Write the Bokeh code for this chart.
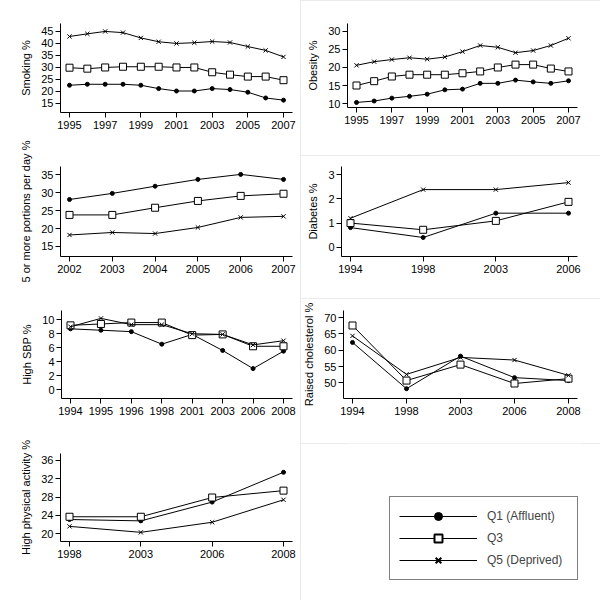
from bokeh.plotting import figure
from bokeh.models import FixedTicker, Range1d, Legend, LegendItem
from bokeh.layouts import row, column
from bokeh.embed import file_html
from bokeh.resources import INLINE

# ---------------- data ----------------
series_labels = ["Q1 (Affluent)", "Q3", "Q5 (Deprived)"]

smoking_years = [1995, 1996, 1997, 1998, 1999, 2000, 2001, 2002, 2003, 2004, 2005, 2006, 2007]
smoking_q1 = [22.6, 23.0, 23.0, 23.0, 22.6, 21.2, 20.2, 20.2, 21.2, 20.8, 19.7, 17.3, 16.4]
smoking_q3 = [29.9, 29.5, 30.0, 30.3, 30.3, 30.3, 30.0, 30.0, 28.0, 27.0, 26.2, 26.2, 24.7]
smoking_q5 = [42.9, 44.0, 45.0, 44.5, 42.3, 40.7, 40.0, 40.3, 40.8, 40.4, 38.7, 37.1, 34.4]
smoking_yticks = [15, 20, 25, 30, 35, 40, 45]

obesity_years = [1995, 1996, 1997, 1998, 1999, 2000, 2001, 2002, 2003, 2004, 2005, 2006, 2007]
obesity_q1 = [10.3, 10.7, 11.5, 12.0, 12.6, 13.8, 14.0, 15.6, 15.6, 16.5, 16.0, 15.6, 16.3]
obesity_q3 = [15.0, 16.2, 17.5, 18.0, 18.0, 18.0, 18.4, 18.9, 20.0, 20.8, 20.8, 19.7, 18.9]
obesity_q5 = [20.6, 21.6, 22.2, 22.7, 22.3, 22.9, 24.4, 26.1, 25.6, 24.1, 24.7, 26.1, 28.1]
obesity_yticks = [10, 15, 20, 25, 30]

fruit_years = [2002, 2003, 2004, 2005, 2006, 2007]
fruit_q1 = [28.1, 29.8, 31.8, 33.7, 35.1, 33.7]
fruit_q3 = [23.8, 23.8, 25.8, 27.7, 29.1, 29.7]
fruit_q5 = [18.2, 18.9, 18.6, 20.3, 23.1, 23.4]
fruit_yticks = [15, 20, 25, 30, 35]

diabetes_years = [1994, 1998, 2003, 2006]
diabetes_q1 = [0.81, 0.40, 1.41, 1.41]
diabetes_q3 = [1.00, 0.72, 1.09, 1.88]
diabetes_q5 = [1.20, 2.39, 2.39, 2.68]
diabetes_yticks = [0, 1, 2, 3]

sbp_years = [1994, 1995, 1996, 1998, 2001, 2003, 2006, 2008]
sbp_q1 = [8.7, 8.5, 8.3, 6.5, 7.9, 5.6, 3.0, 5.5]
sbp_q3 = [9.2, 9.4, 9.6, 9.6, 7.8, 7.9, 6.2, 6.2]
sbp_q5 = [9.0, 10.2, 9.3, 9.3, 8.0, 7.9, 6.4, 7.0]
sbp_yticks = [0, 2, 4, 6, 8, 10]

chol_years = [1994, 1998, 2003, 2006, 2008]
chol_q1 = [62.4, 48.2, 58.2, 51.6, 50.7]
chol_q3 = [67.6, 50.7, 55.6, 49.8, 51.3]
chol_q5 = [64.4, 52.6, 57.8, 57.0, 52.3]
chol_yticks = [50, 55, 60, 65, 70]

activity_years = [1998, 2003, 2006, 2008]
activity_q1 = [23.1, 22.8, 26.9, 33.4]
activity_q3 = [23.7, 23.7, 27.9, 29.4]
activity_q5 = [21.6, 20.3, 22.5, 27.4]
activity_yticks = [20, 24, 28, 32, 36]

# ---------------- styling ----------------
FONT = "Liberation Sans"
OUTLINE = {"outline": "1px solid #e4e4e4", "outline-offset": "-1px"}


def make_panel(years, q1, q3, q5, ylabel, yrange, yticks, width, height,
               left, right, top, bottom, label_step=1, ylab_standoff=6, styles=None):
    n = len(years)
    p = figure(width=width, height=height, output_backend="svg",
               toolbar_location=None, min_border_left=left,
               min_border_right=right, min_border_top=top,
               min_border_bottom=bottom, styles=styles or {})
    frame_w = width - left - right
    step = (frame_w - 18) / (n - 1)
    p.x_range = Range1d(-9 / step, (n - 1) + 9 / step)
    p.y_range = Range1d(*yrange)
    xs = list(range(n))
    for vals, marker, size, fill in ((q1, "circle", 4, "black"),
                                     (q3, "square", 7, "white"),
                                     (q5, "x", 6, None)):
        p.line(xs, vals, line_color="black", line_width=1)
        p.scatter(xs, vals, marker=marker, size=size, line_color="black",
                  fill_color=fill, line_width=1)
    p.xgrid.visible = False
    p.ygrid.visible = False
    p.outline_line_color = None
    p.background_fill_color = "white"
    p.border_fill_color = "white"

    p.xaxis.ticker = FixedTicker(ticks=xs[::label_step])
    p.xaxis.major_label_overrides = {i: str(y) for i, y in enumerate(years)}
    p.yaxis.ticker = FixedTicker(ticks=yticks)
    p.yaxis.axis_label = ylabel
    for ax in (p.xaxis[0], p.yaxis[0]):
        ax.axis_line_color = "black"
        ax.major_tick_line_color = "black"
        ax.major_tick_out = 5
        ax.major_tick_in = 0
        ax.minor_tick_line_color = None
        ax.major_label_text_font = FONT
        ax.major_label_text_font_size = "11px"
        ax.major_label_text_color = "black"
        ax.axis_label_text_font = FONT
        ax.axis_label_text_font_size = "11px"
        ax.axis_label_text_font_style = "normal"
        ax.axis_label_text_color = "black"
    p.xaxis.major_label_standoff = 3
    p.yaxis.major_label_standoff = 2
    p.yaxis.axis_label_standoff = ylab_standoff
    return p


# left column (x 0..300)
p1 = make_panel(smoking_years, smoking_q1, smoking_q3, smoking_q5, "Smoking %",
                (11.25, 48.3), smoking_yticks, 300, 138, 60, 8, 23, 26, label_step=2)
p3 = make_panel(fruit_years, fruit_q1, fruit_q3, fruit_q5, "5 or more portions per day %",
                (12.2, 37.3), fruit_yticks, 300, 147, 60, 8, 28, 29)
p5 = make_panel(sbp_years, sbp_q1, sbp_q3, sbp_q5, "High SBP %",
                (-1.29, 11.33), sbp_yticks, 300, 145, 61, 8, 25, 32)
p7 = make_panel(activity_years, activity_q1, activity_q3, activity_q5, "High physical activity %",
                (18.3, 37.5), activity_yticks, 300, 170, 60, 8, 23, 59)

# right column (x 300..600)
p2 = make_panel(obesity_years, obesity_q1, obesity_q3, obesity_q5, "Obesity %",
                (8.9, 32.2), obesity_yticks, 300, 155, 47, 23, 23, 48, label_step=2,
                styles=OUTLINE)
p4 = make_panel(diabetes_years, diabetes_q1, diabetes_q3, diabetes_q5, "Diabetes %",
                (-0.39, 3.35), diabetes_yticks, 300, 143, 41, 23, 11, 42, styles=OUTLINE)
p6 = make_panel(chol_years, chol_q1, chol_q3, chol_q5, "Raised cholesterol %",
                (45.2, 72.2), chol_yticks, 300, 145, 43, 23, 12, 45, styles=OUTLINE)

# legend panel
pl = figure(width=300, height=157, output_backend="svg", toolbar_location=None,
            x_axis_type=None, y_axis_type=None, min_border_left=47,
            min_border_right=18, min_border_top=0, min_border_bottom=0,
            styles=OUTLINE, x_range=Range1d(0, 1), y_range=Range1d(0, 1))
pl.xgrid.visible = False
pl.ygrid.visible = False
pl.outline_line_color = None
pl.border_fill_color = "white"
nan = float("nan")
items = []
for label, marker, size, fill, lw in ((series_labels[0], "circle", 8, "black", 1),
                                      (series_labels[1], "square", 8, "white", 2),
                                      (series_labels[2], "x", 6, None, 2)):
    lr = pl.line([nan], [nan], line_color="black", line_width=1)
    sr = pl.scatter([nan], [nan], marker=marker, size=size, line_color="black",
                    fill_color=fill, line_width=lw)
    items.append(LegendItem(label=label, renderers=[lr, sr]))
legend = Legend(items=items, location=(42, 20), glyph_width=78, glyph_height=20,
                label_height=20, label_width=81, spacing=2, padding=9,
                label_standoff=10, label_text_font=FONT, label_text_font_size="12px",
                border_line_color="black", border_line_width=1,
                background_fill_color="white", background_fill_alpha=1, margin=0)
pl.add_layout(legend, "center")

# each figure wrapped on its own so that frames are not aligned across the column
left_col = column(row(p1), row(p3), row(p5), row(p7), spacing=0)
right_col = column(row(p2), row(p4), row(p6), row(pl), spacing=0)
layout = row(left_col, right_col, spacing=0)

open("out.html", "w").write(file_html(layout, INLINE))
